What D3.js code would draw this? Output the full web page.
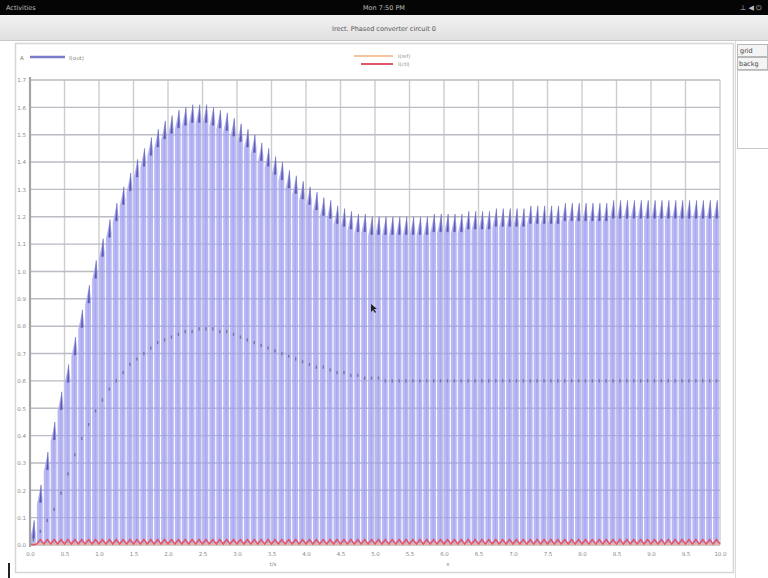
<!DOCTYPE html>
<html>
<head>
<meta charset="utf-8">
<script src="https://cdn.jsdelivr.net/npm/d3@7"></script>
<style>
  html, body { margin: 0; padding: 0; background: #ffffff; }
  svg { display: block; font-family: "DejaVu Sans", "Liberation Sans", sans-serif; }
</style>
</head>
<body>
<svg id="chart" width="768" height="578"></svg>
<script>
// ---- data -------------------------------------------------------------
const period = 0.1;           // s, one switching pulse
// peak of each current pulse (A)
const pulsePeak = [
  0.09,0.22,0.34,0.45,0.56,0.66,0.76,0.86,0.95,1.04,
  1.12,1.19,1.25,1.31,1.36,1.41,1.45,1.49,1.52,1.55,
  1.57,1.59,1.60,1.61,1.61,1.61,1.60,1.59,1.58,1.56,
  1.54,1.52,1.50,1.47,1.45,1.42,1.40,1.37,1.35,1.33,
  1.31,1.29,1.27,1.26,1.24,1.23,1.22,1.21,1.21,1.20,
  1.20,1.20,1.20,1.20,1.20,1.20,1.20,1.20,1.21,1.21,
  1.21,1.21,1.21,1.22,1.22,1.22,1.22,1.23,1.23,1.23,
  1.23,1.23,1.24,1.24,1.24,1.24,1.24,1.25,1.25,1.25,
  1.25,1.25,1.25,1.25,1.26,1.26,1.26,1.26,1.26,1.26,
  1.26,1.26,1.26,1.26,1.26,1.26,1.26,1.26,1.26,1.26
];
// mean output current per pulse (A)
const meanCurrent = [
  0.02,0.05,0.09,0.13,0.19,0.26,0.33,0.39,0.44,0.49,
  0.53,0.57,0.60,0.63,0.66,0.68,0.70,0.72,0.74,0.75,
  0.76,0.77,0.78,0.78,0.79,0.79,0.79,0.78,0.78,0.77,
  0.76,0.75,0.74,0.73,0.72,0.71,0.70,0.69,0.68,0.67,
  0.66,0.65,0.65,0.64,0.63,0.63,0.62,0.62,0.61,0.61,
  0.61,0.60,0.60,0.60,0.60,0.60,0.60,0.60,0.60,0.60,
  0.60,0.60,0.60,0.60,0.60,0.60,0.60,0.60,0.60,0.60,
  0.60,0.60,0.60,0.60,0.60,0.60,0.60,0.60,0.60,0.60,
  0.60,0.60,0.60,0.60,0.60,0.60,0.60,0.60,0.60,0.60,
  0.60,0.60,0.60,0.60,0.60,0.60,0.60,0.60,0.60,0.60
];
// ripple of the control signal (A)
const rippleHigh = [
  0.00,0.02,0.02,0.02,0.02,0.02,0.02,0.02,0.02,0.02,
  0.02,0.02,0.02,0.02,0.02,0.02,0.02,0.02,0.02,0.02,
  0.02,0.02,0.02,0.02,0.02,0.02,0.02,0.02,0.02,0.02,
  0.02,0.02,0.02,0.02,0.02,0.02,0.02,0.02,0.02,0.02,
  0.02,0.02,0.02,0.02,0.02,0.02,0.02,0.02,0.02,0.02,
  0.02,0.02,0.02,0.02,0.02,0.02,0.02,0.02,0.02,0.02,
  0.02,0.02,0.02,0.02,0.02,0.02,0.02,0.02,0.02,0.02,
  0.02,0.02,0.02,0.02,0.02,0.02,0.02,0.02,0.02,0.02,
  0.02,0.02,0.02,0.02,0.02,0.02,0.02,0.02,0.02,0.02,
  0.02,0.02,0.02,0.02,0.02,0.02,0.02,0.02,0.02,0.02
];
const xTicks = [0,0.5,1,1.5,2,2.5,3,3.5,4,4.5,5,5.5,6,6.5,7,7.5,8,8.5,9,9.5,10];
const yTicks = [0,0.1,0.2,0.3,0.4,0.5,0.6,0.7,0.8,0.9,1.0,1.1,1.2,1.3,1.4,1.5,1.6,1.7];
const legendLeft = ["I(out)"];
const legendMid = ["I(ref)", "I(ctl)"];

// ---- desktop frame ----------------------------------------------------
const svg = d3.select("#chart");
svg.append("rect").attr("width", 768).attr("height", 578).attr("fill", "#ffffff");

svg.append("rect").attr("x", 0).attr("y", 0).attr("width", 768).attr("height", 15).attr("fill", "#050505");
svg.append("text").attr("x", 6).attr("y", 10).attr("fill", "#bdbdbd").attr("font-size", 6.5).text("Activities");
svg.append("text").attr("x", 384).attr("y", 10).attr("fill", "#bdbdbd").attr("font-size", 6.5)
  .attr("text-anchor", "middle").text("Mon 7:50 PM");
svg.append("text").attr("x", 762).attr("y", 10).attr("fill", "#bdbdbd").attr("font-size", 7)
  .attr("text-anchor", "end").text("⊥ ◀ ⏻");

const tb = svg.append("defs").append("linearGradient").attr("id", "tbar").attr("x1", 0).attr("x2", 0).attr("y1", 0).attr("y2", 1);
tb.append("stop").attr("offset", 0).attr("stop-color", "#f2f2f2");
tb.append("stop").attr("offset", 1).attr("stop-color", "#e0e0e0");
svg.append("rect").attr("x", 0).attr("y", 15).attr("width", 768).attr("height", 25).attr("fill", "url(#tbar)");
svg.append("line").attr("x1", 0).attr("x2", 768).attr("y1", 40.5).attr("y2", 40.5).attr("stroke", "#c8c8c8");
svg.append("text").attr("x", 384).attr("y", 31).attr("fill", "#555").attr("font-size", 6.5)
  .attr("text-anchor", "middle").text("Irect. Phased converter circuit 0");

// plot window border
svg.append("rect").attr("x", 15.5).attr("y", 43.5).attr("width", 718).attr("height", 529)
  .attr("fill", "none").attr("stroke", "#d6d6d6").attr("stroke-width", 1.5);
svg.append("line").attr("x1", 735.5).attr("x2", 735.5).attr("y1", 41).attr("y2", 578).attr("stroke", "#dcdcdc");

// side panel buttons
svg.append("rect").attr("x", 737.5).attr("y", 44.5).attr("width", 30).attr("height", 12)
  .attr("fill", "#f4f4f4").attr("stroke", "#b8b8b8");
svg.append("text").attr("x", 740).attr("y", 53).attr("font-size", 6.5).attr("fill", "#444").text("grid");
svg.append("rect").attr("x", 737.5).attr("y", 57.5).attr("width", 30).attr("height", 12)
  .attr("fill", "#f4f4f4").attr("stroke", "#b8b8b8");
svg.append("text").attr("x", 739).attr("y", 66).attr("font-size", 6.5).attr("fill", "#444").text("backg");
svg.append("rect").attr("x", 737.5).attr("y", 70.5).attr("width", 31).attr("height", 78)
  .attr("fill", "#ffffff").attr("stroke", "#c8c8c8");

// ---- scales -----------------------------------------------------------
const x = d3.scaleLinear().domain([0, 10]).range([30, 720]);
const y = d3.scaleLinear().domain([0, 1.7]).range([545, 80]);

// grid
const grid = svg.append("g");
grid.selectAll(".vg").data(xTicks).join("line")
  .attr("x1", d => x(d)).attr("x2", d => x(d)).attr("y1", y(1.7)).attr("y2", y(0))
  .attr("stroke", "#cdcdcd").attr("stroke-width", 1.4);
grid.selectAll(".hg").data(yTicks).join("line")
  .attr("x1", x(0)).attr("x2", x(10)).attr("y1", d => y(d)).attr("y2", d => y(d))
  .attr("stroke", "#cdcdcd").attr("stroke-width", 1.4);

// ---- current pulses ---------------------------------------------------
const pulses = pulsePeak.map((pk, i) => ({ t: i * period, pk }));
const bodyLine = d3.line().x(d => x(d[0])).y(d => y(d[1]));

svg.append("g").selectAll("path").data(pulses).join("path")
  .attr("d", d => bodyLine([
    [d.t, 0], [d.t, Math.max(0, d.pk - 0.07)], [d.t + 0.06, d.pk],
    [d.t + 0.084, Math.max(0, d.pk - 0.05)], [d.t + 0.084, 0]
  ]) + "Z")
  .attr("fill", "#b8b8f5");

// darker centre stripe of each pulse
svg.append("g").selectAll("line").data(pulses).join("line")
  .attr("x1", d => x(d.t + 0.045)).attr("x2", d => x(d.t + 0.045))
  .attr("y1", y(0)).attr("y2", d => y(Math.max(0, d.pk - 0.05)))
  .attr("stroke", "#a9a9ec").attr("stroke-width", 1.2);

// grid shows faintly through the fill
const grid2 = svg.append("g");
grid2.selectAll("line").data(yTicks).join("line")
  .attr("x1", x(0)).attr("x2", x(10)).attr("y1", d => y(d)).attr("y2", d => y(d))
  .attr("stroke", "rgba(80,80,150,0.13)").attr("stroke-width", 1.4);

// dark pulse tips
svg.append("g").selectAll("path").data(pulses).join("path")
  .attr("d", d => bodyLine([
    [d.t + 0.038, Math.max(0, d.pk - 0.065)], [d.t + 0.06, d.pk],
    [d.t + 0.066, Math.max(0, d.pk - 0.065)]
  ]) + "Z")
  .attr("fill", "#5454b0").attr("stroke", "#6a6abc").attr("stroke-width", 0.5);

// mean current, drawn as short dashes
svg.append("g").selectAll("line").data(meanCurrent).join("line")
  .attr("x1", (d, i) => x(i * period + 0.05)).attr("x2", (d, i) => x(i * period + 0.05))
  .attr("y1", d => y(d) - 1.6).attr("y2", d => y(d) + 1.6)
  .attr("stroke", "#75759e").attr("stroke-width", 1.4);

// reference (orange) and control ripple (red) along the base
svg.append("line").attr("x1", x(0)).attr("x2", x(10)).attr("y1", y(0) - 1).attr("y2", y(0) - 1)
  .attr("stroke", "#f3b48c").attr("stroke-width", 1.5);
const ripplePts = [];
rippleHigh.forEach((v, i) => { ripplePts.push([i * period, 0.004]); ripplePts.push([i * period + 0.05, v]); });
ripplePts.push([10, 0.004]);
svg.append("path").attr("d", bodyLine(ripplePts))
  .attr("fill", "none").attr("stroke", "#e0566a").attr("stroke-width", 1.6);

// ---- axes -------------------------------------------------------------
svg.append("line").attr("x1", x(0)).attr("x2", x(0)).attr("y1", y(1.7) - 3).attr("y2", y(0) + 2)
  .attr("stroke", "#a4a4a4").attr("stroke-width", 2.2);

const xAxis = svg.append("g").attr("transform", `translate(0,${y(0) + 4})`)
  .call(d3.axisBottom(x).tickValues(xTicks).tickFormat(d3.format(".1f")).tickSize(0));
xAxis.select(".domain").remove();
xAxis.selectAll("text").attr("font-size", 5.5).attr("fill", "#8a8a8a").attr("font-family", "DejaVu Sans");

const yAxis = svg.append("g").attr("transform", `translate(${x(0) - 1},0)`)
  .call(d3.axisLeft(y).tickValues(yTicks).tickFormat(d3.format(".1f")).tickSize(0));
yAxis.select(".domain").remove();
yAxis.selectAll("text").attr("font-size", 5.5).attr("fill", "#8a8a8a").attr("font-family", "DejaVu Sans");

svg.append("text").attr("x", 273).attr("y", 566).attr("font-size", 5.5).attr("fill", "#8a8a8a")
  .attr("text-anchor", "middle").text("t/s");
svg.append("text").attr("x", 448).attr("y", 566).attr("font-size", 5.5).attr("fill", "#8a8a8a")
  .attr("text-anchor", "middle").text("x");

// ---- legends ----------------------------------------------------------
svg.append("text").attr("x", 20).attr("y", 60).attr("font-size", 5.5).attr("fill", "#777").text("A");
svg.append("line").attr("x1", 30).attr("x2", 65).attr("y1", 57).attr("y2", 57)
  .attr("stroke", "#7a7ac6").attr("stroke-width", 2.5);
svg.append("text").attr("x", 69).attr("y", 59.5).attr("font-size", 5.5).attr("fill", "#888").text(legendLeft[0]);

svg.append("line").attr("x1", 354).attr("x2", 393).attr("y1", 56).attr("y2", 56)
  .attr("stroke", "#f6c49c").attr("stroke-width", 2);
svg.append("line").attr("x1", 361).attr("x2", 393).attr("y1", 64).attr("y2", 64)
  .attr("stroke", "#e0566a").attr("stroke-width", 2);
svg.append("text").attr("x", 398).attr("y", 58).attr("font-size", 5).attr("fill", "#888").text(legendMid[0]);
svg.append("text").attr("x", 398).attr("y", 66).attr("font-size", 5).attr("fill", "#888").text(legendMid[1]);

// mouse pointer and edge marker
svg.append("path").attr("d", "M371,304 l0,8 l2,-2 l2,3 l1,-1 l-2,-3 l3,0 z").attr("fill", "#222");
svg.append("rect").attr("x", 8).attr("y", 563).attr("width", 2).attr("height", 15).attr("fill", "#222");
</script>
</body>
</html>
